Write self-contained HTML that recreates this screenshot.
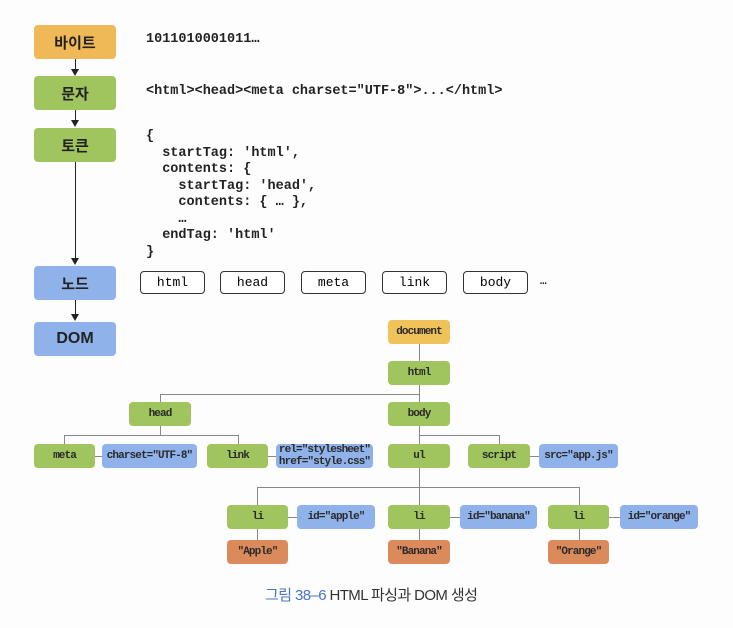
<!DOCTYPE html>
<html><head><meta charset="utf-8"><style>
body{margin:0;width:733px;height:628px;background:#fdfdfd;position:relative;overflow:hidden;font-family:"Liberation Sans","Noto Sans CJK KR",sans-serif}
.b{position:absolute;border-radius:4px;display:flex;align-items:center;justify-content:center;box-sizing:border-box}
.L{left:34px;width:82px;height:34px;font-weight:bold;font-size:15px;color:#222}
.c{position:absolute;font-family:"Liberation Mono",monospace;font-weight:bold;font-size:13.5px;color:#222;white-space:pre}
.n{position:absolute;top:271px;height:23px;width:65px;border:1.5px solid #333;border-radius:4px;font-family:"Liberation Mono",monospace;font-size:13px;display:flex;align-items:center;justify-content:center;box-sizing:border-box;background:#fff}
.t{font-family:"Liberation Mono",monospace;font-weight:bold;font-size:11px;color:#2a2a2a;letter-spacing:-0.9px;text-align:center;line-height:12px}
.y{background:#efc25a}.g{background:#a0c45e}.u{background:#8fb2ea}.o{background:#db8a5c}
.h{position:absolute;height:1px;background:#888}.v{position:absolute;width:1px;background:#888}
.a{position:absolute;width:1.5px;background:#222;left:74.5px}
.ah{position:absolute;left:71px;width:0;height:0;border-left:4.5px solid transparent;border-right:4.5px solid transparent;border-top:7px solid #222}
</style></head><body>
<div class="b L" style="top:25px;background:#efb957">바이트</div>
<div class="b L g" style="top:76px">문자</div>
<div class="b L g" style="top:128px">토큰</div>
<div class="b L u" style="top:266px">노드</div>
<div class="b L u" style="top:322px;font-size:16px">DOM</div>
<div class="a" style="top:59px;height:11px"></div><div class="ah" style="top:69px"></div>
<div class="a" style="top:110px;height:11px"></div><div class="ah" style="top:120px"></div>
<div class="a" style="top:162px;height:97px"></div><div class="ah" style="top:258px"></div>
<div class="a" style="top:300px;height:15px"></div><div class="ah" style="top:314px"></div>

<div class="c" style="left:146px;top:32px">1011010001011…</div>
<div class="c" style="left:146px;top:84px">&lt;html&gt;&lt;head&gt;&lt;meta charset="UTF-8"&gt;...&lt;/html&gt;</div>
<div class="c" style="left:146px;top:129px;line-height:16.5px">{
  startTag: 'html',
  contents: {
    startTag: 'head',
    contents: { … },
    …
  endTag: 'html'
}</div>
<div class="n" style="left:140px">html</div>
<div class="n" style="left:220px">head</div>
<div class="n" style="left:301px">meta</div>
<div class="n" style="left:382px">link</div>
<div class="n" style="left:463px">body</div>
<div class="c" style="left:540px;top:276px;font-size:11px">…</div>

<div class="v" style="left:419px;top:344px;height:58px"></div>
<div class="h" style="left:160px;top:394px;width:260px"></div>
<div class="v" style="left:160px;top:394px;height:8px"></div>
<div class="v" style="left:160px;top:426px;height:10px"></div>
<div class="h" style="left:64px;top:435px;width:175px"></div>
<div class="v" style="left:64px;top:435px;height:9px"></div>
<div class="v" style="left:238px;top:435px;height:9px"></div>
<div class="v" style="left:419px;top:426px;height:18px"></div>
<div class="h" style="left:419px;top:435px;width:81px"></div>
<div class="v" style="left:499px;top:435px;height:9px"></div>
<div class="h" style="left:95px;top:456px;width:8px"></div>
<div class="h" style="left:268px;top:456px;width:8px"></div>
<div class="h" style="left:530px;top:456px;width:9px"></div>
<div class="v" style="left:419px;top:468px;height:37px"></div>
<div class="h" style="left:257px;top:487px;width:323px"></div>
<div class="v" style="left:257px;top:487px;height:18px"></div>
<div class="v" style="left:579px;top:487px;height:18px"></div>
<div class="h" style="left:288px;top:517px;width:9px"></div>
<div class="h" style="left:450px;top:517px;width:10px"></div>
<div class="h" style="left:609px;top:517px;width:11px"></div>
<div class="v" style="left:257px;top:529px;height:11px"></div>
<div class="v" style="left:419px;top:529px;height:11px"></div>
<div class="v" style="left:579px;top:529px;height:11px"></div>

<div class="b y t" style="left:388px;top:320px;width:62px;height:24px">document</div>
<div class="b g t" style="left:388px;top:361px;width:62px;height:24px">html</div>
<div class="b g t" style="left:129px;top:402px;width:62px;height:24px">head</div>
<div class="b g t" style="left:388px;top:402px;width:62px;height:24px">body</div>
<div class="b g t" style="left:34px;top:444px;width:61px;height:24px">meta</div>
<div class="b u t" style="left:102px;top:444px;width:95px;height:24px">charset="UTF-8"</div>
<div class="b g t" style="left:207px;top:444px;width:61px;height:24px">link</div>
<div class="b u t" style="left:276px;top:444px;width:97px;height:24px;text-align:left">rel="stylesheet"<br>href="style.css"</div>
<div class="b g t" style="left:388px;top:444px;width:62px;height:24px">ul</div>
<div class="b g t" style="left:468px;top:444px;width:62px;height:24px">script</div>
<div class="b u t" style="left:539px;top:444px;width:79px;height:24px">src="app.js"</div>
<div class="b g t" style="left:227px;top:505px;width:61px;height:24px">li</div>
<div class="b u t" style="left:297px;top:505px;width:78px;height:24px">id="apple"</div>
<div class="b g t" style="left:388px;top:505px;width:62px;height:24px">li</div>
<div class="b u t" style="left:460px;top:505px;width:77px;height:24px">id="banana"</div>
<div class="b g t" style="left:548px;top:505px;width:61px;height:24px">li</div>
<div class="b u t" style="left:620px;top:505px;width:78px;height:24px">id="orange"</div>
<div class="b o t" style="left:227px;top:540px;width:61px;height:24px">"Apple"</div>
<div class="b o t" style="left:388px;top:540px;width:62px;height:24px">"Banana"</div>
<div class="b o t" style="left:548px;top:540px;width:61px;height:24px">"Orange"</div>

<div style="position:absolute;left:265px;top:584px;font-size:15px;color:#333;white-space:nowrap;letter-spacing:-0.6px"><span style="color:#4a72c4">그림 38–6</span> HTML 파싱과 DOM 생성</div>
</body></html>
